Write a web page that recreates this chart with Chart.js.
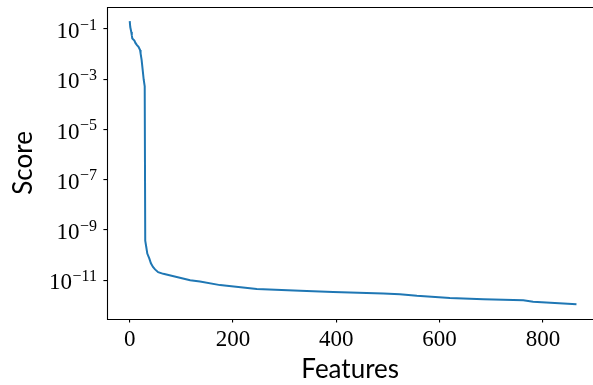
<!DOCTYPE html>
<html>
<head>
<meta charset="utf-8">
<script src="https://cdn.jsdelivr.net/npm/chart.js@4.4.1/dist/chart.umd.min.js"></script>
<style>
  html, body { margin: 0; padding: 0; background: #fff; overflow: hidden; }
  canvas { display: block; }
</style>
</head>
<body>
<canvas id="c" width="593" height="385"></canvas>
<script>
// feature index (sorted by score) and its score
const features = [0, 1, 3, 4, 5, 9, 11, 14, 17, 20, 21, 23, 25, 27, 29,
  30, 32, 34, 38, 41, 45, 49, 55, 65, 91, 117, 136, 175, 188, 246,
  330, 394, 491, 523, 556, 620, 685, 762, 781, 865];
const scores = [2.06e-1, 1.2e-1, 7.6e-2, 5.6e-2, 4.2e-2, 3.5e-2, 2.8e-2, 2.3e-2, 1.95e-2, 1.45e-2,
  1.07e-2, 5.9e-3, 2.4e-3, 9.8e-4, 5.2e-4,
  3.8e-10, 2.1e-10, 1.15e-10, 7.2e-11, 4.7e-11, 3.4e-11, 2.7e-11, 2.1e-11, 1.8e-11, 1.35e-11,
  1.0e-11, 8.9e-12, 6.4e-12, 6.0e-12, 4.5e-12,
  3.8e-12, 3.4e-12, 2.95e-12, 2.8e-12, 2.4e-12, 1.95e-12, 1.74e-12, 1.6e-12, 1.4e-12, 1.1e-12];

const xTicks = [0, 200, 400, 600, 800];
const yTickExps = [-1, -3, -5, -7, -9, -11];

const points = features.map((f, i) => ({ x: f, y: scores[i] }));

// y tick labels as 10 with a raised exponent, plus the box round the plot
// (right side of the box falls just outside the picture)
const framePlugin = {
  id: 'frame',
  afterDraw(chart) {
    const ctx = chart.ctx;
    const a = chart.chartArea;
    const ys = chart.scales.y;
    const l = Math.round(a.left) + 0.5, t = Math.round(a.top) + 0.5, b = Math.round(a.bottom) + 0.5;
    ctx.save();
    ctx.strokeStyle = '#000';
    ctx.lineWidth = 1.1;
    ctx.beginPath();
    ctx.moveTo(chart.width, t);
    ctx.lineTo(l, t);
    ctx.lineTo(l, b);
    ctx.lineTo(chart.width, b);
    ctx.stroke();

    ctx.fillStyle = '#000';
    ctx.textBaseline = 'alphabetic';
    ctx.textAlign = 'right';
    const right = 97;
    yTickExps.forEach(e => {
      const py = ys.getPixelForValue(Math.pow(10, e));
      const sup = '\u2212' + Math.abs(e);
      ctx.font = '16px "Liberation Serif"';
      ctx.fillText(sup, right, py + 0.5);
      const w = ctx.measureText(sup).width;
      ctx.font = '23px "Liberation Serif"';
      ctx.fillText('10', right - w - 0.5, py + 9);
    });
    ctx.restore();
  }
};

new Chart(document.getElementById('c'), {
  type: 'line',
  data: {
    datasets: [{
      data: points,
      borderColor: '#1f77b4',
      borderWidth: 2,
      pointRadius: 0,
      tension: 0,
      fill: false
    }]
  },
  options: {
    responsive: false,
    animation: false,
    layout: { padding: { top: 3.3, right: 0, left: 0, bottom: 0 } },
    plugins: { legend: { display: false }, tooltip: { enabled: false } },
    scales: {
      x: {
        type: 'linear',
        min: -43.25,
        max: 897,
        bounds: 'data',
        afterBuildTicks: s => { s.ticks = xTicks.map(v => ({ value: v })); },
        afterFit: s => { s.height = 66.5; },
        border: { display: false },
        grid: { drawOnChartArea: false, drawTicks: true, tickLength: 4, color: '#000', lineWidth: 1.1 },
        ticks: { color: '#000', font: { family: 'Liberation Serif', size: 23 }, padding: 4, maxRotation: 0 },
        title: { display: true, text: 'Features', color: '#000',
          font: { family: 'Lato', size: 26 }, padding: { top: 0, bottom: 0 } }
      },
      y: {
        type: 'logarithmic',
        min: 3.0e-13,
        max: 0.74,
        bounds: 'data',
        afterBuildTicks: s => { s.ticks = yTickExps.map(e => ({ value: Math.pow(10, e) })); },
        afterFit: s => { s.width = 107.4; },
        border: { display: false },
        grid: { drawOnChartArea: false, drawTicks: true, tickLength: 4, color: '#000', lineWidth: 1.1 },
        ticks: { callback: () => '', padding: 0 },
        title: { display: true, text: 'Score', color: '#000',
          font: { family: 'Lato', size: 26 }, padding: { top: 8, bottom: 0 } }
      }
    }
  },
  plugins: [framePlugin]
});
</script>
</body>
</html>
